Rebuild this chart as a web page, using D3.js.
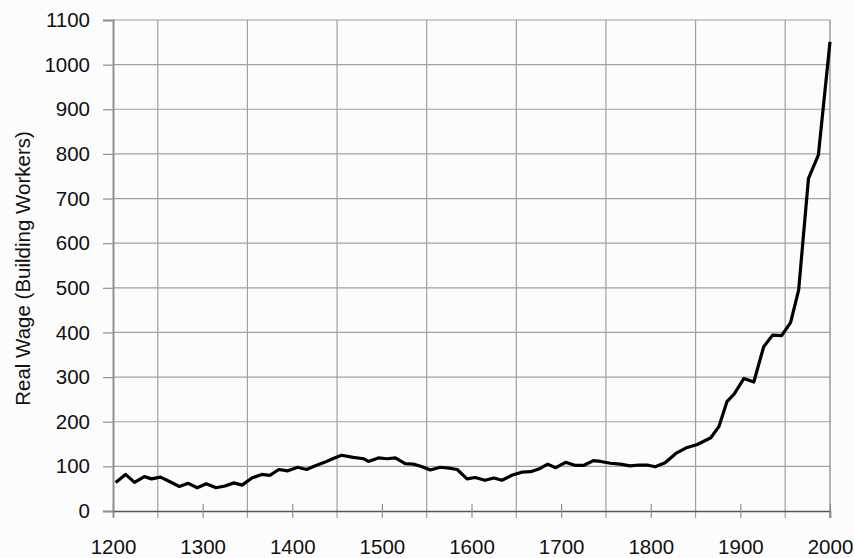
<!DOCTYPE html>
<html>
<head>
<meta charset="utf-8">
<title>Real Wage</title>
<script src="https://cdn.jsdelivr.net/npm/d3@7"></script>
<style>
  body { margin: 0; background: #fcfcfc; }
  svg { display: block; }
  text { font-family: "Liberation Sans", Arial, sans-serif; fill: #111; }
</style>
</head>
<body>
<script>
// years and real wage values
const years = [1203, 1214, 1224, 1235, 1243, 1253, 1263, 1274, 1284, 1294,
  1304, 1315, 1325, 1335, 1344, 1355, 1366, 1375, 1385, 1395,
  1406, 1416, 1425, 1436, 1445, 1455, 1468, 1480, 1485, 1496,
  1506, 1515, 1526, 1535, 1545, 1554, 1565, 1575, 1584, 1595,
  1604, 1615, 1625, 1634, 1645, 1656, 1666, 1675, 1685, 1694,
  1705, 1716, 1725, 1736, 1744, 1755, 1766, 1777, 1787, 1796,
  1805, 1816, 1828, 1839, 1852, 1867, 1876, 1885, 1893, 1904,
  1915, 1926, 1936, 1946, 1956, 1965, 1976, 1987, 2000];
const wages = [64, 82, 64, 77, 72, 76, 66, 55, 62, 52,
  61, 52, 56, 63, 58, 74, 82, 80, 93, 90,
  98, 93, 101, 109, 117, 125, 120, 117, 111, 119,
  117, 119, 106, 105, 99, 92, 98, 96, 93, 72,
  75, 69, 74, 69, 80, 87, 88, 94, 105, 97,
  109, 102, 102, 113, 111, 107, 105, 101, 103, 103,
  99, 108, 129, 141, 149, 164, 189, 245, 262, 297,
  289, 368, 394, 393, 422, 495, 745, 797, 1051];

const xTicks = [1200, 1300, 1400, 1500, 1600, 1700, 1800, 1900, 2000];
const xGrid = [1250, 1350, 1450, 1550, 1650, 1750, 1850, 1950];
const yTicks = [0, 100, 200, 300, 400, 500, 600, 700, 800, 900, 1000, 1100];
const yLabel = "Real Wage (Building Workers)";

const width = 854, height = 558;
const mLeft = 113, mRight = 830, mTop = 20, mBottom = 511;
const fontSize = "20.5px";

const x = d3.scaleLinear().domain([1200, 2000]).range([mLeft, mRight]);
const y = d3.scaleLinear().domain([0, 1100]).range([mBottom, mTop]);

const svg = d3.select("body").append("svg")
  .attr("width", width)
  .attr("height", height);

// horizontal grid lines
svg.append("g")
  .selectAll("line")
  .data(yTicks.slice(1))
  .enter()
  .append("line")
  .attr("x1", mLeft).attr("x2", mRight)
  .attr("y1", d => y(d)).attr("y2", d => y(d))
  .attr("stroke", "#a0a0a0")
  .attr("stroke-width", 1.2);

// vertical grid lines (at the half centuries)
svg.append("g")
  .selectAll("line")
  .data(xGrid)
  .enter()
  .append("line")
  .attr("x1", d => x(d)).attr("x2", d => x(d))
  .attr("y1", mTop).attr("y2", mBottom + 7)
  .attr("stroke", "#a0a0a0")
  .attr("stroke-width", 1.2);

// right border
svg.append("line")
  .attr("x1", mRight).attr("x2", mRight)
  .attr("y1", mTop).attr("y2", mBottom + 7)
  .attr("stroke", "#999")
  .attr("stroke-width", 1.5);

// y axis
const yAxis = svg.append("g")
  .attr("transform", "translate(" + mLeft + ",0)")
  .call(d3.axisLeft(y).tickValues(yTicks).tickFormat(d3.format("d")).tickSize(10).tickPadding(13));
yAxis.select(".domain").attr("stroke", "#909090").attr("stroke-width", 2);
yAxis.selectAll(".tick line").attr("stroke", "#909090").attr("stroke-width", 1.2);
yAxis.selectAll(".tick text")
  .attr("font-size", fontSize)
  .attr("font-family", "Liberation Sans, Arial, sans-serif")
  .attr("fill", "#111");

// x axis
const xAxis = svg.append("g")
  .attr("transform", "translate(0," + mBottom + ")")
  .call(d3.axisBottom(x).tickValues(xTicks).tickFormat(d3.format("d")).tickSize(7).tickPadding(21));
xAxis.select(".domain").attr("stroke", "#555").attr("stroke-width", 1.5);
xAxis.selectAll(".tick line").attr("y1", -7).attr("stroke", "#909090").attr("stroke-width", 1.2);
xAxis.selectAll(".tick text")
  .attr("font-size", fontSize)
  .attr("font-family", "Liberation Sans, Arial, sans-serif")
  .attr("fill", "#111");

// y axis title
svg.append("text")
  .attr("transform", "translate(30," + ((mTop + mBottom) / 2 + 3) + ") rotate(-90)")
  .attr("text-anchor", "middle")
  .attr("font-size", fontSize)
  .text(yLabel);

// wage line
const points = years.map((d, i) => [d, wages[i]]);
svg.append("path")
  .datum(points)
  .attr("fill", "none")
  .attr("stroke", "#000")
  .attr("stroke-width", 3.2)
  .attr("stroke-linejoin", "round")
  .attr("d", d3.line().x(d => x(d[0])).y(d => y(d[1])));
</script>
</body>
</html>
